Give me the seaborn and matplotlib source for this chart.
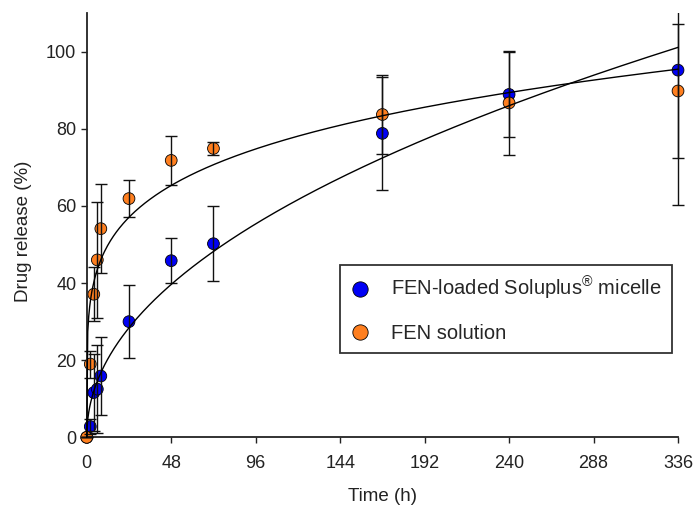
import matplotlib
matplotlib.use("Agg")
import matplotlib.pyplot as plt
import numpy as np
import pandas as pd
import seaborn as sns

# sampling times (h)
time_h = [0, 2, 4, 6, 8, 24, 48, 72, 168, 240, 336]

# FEN-loaded Soluplus micelle
micelle = [0, 2.8, 11.6, 12.5, 15.9, 30.0, 45.8, 50.2, 78.8, 88.9, 95.2]
micelle_err = [0, 2.0, 10.0, 11.5, 10.2, 9.5, 5.8, 9.7, 14.7, 11.0, 35.0]

# FEN solution
solution = [0, 19.0, 37.1, 46.0, 54.1, 61.9, 71.8, 74.9, 83.7, 86.7, 89.8]
solution_err = [0, 3.5, 7.0, 15.0, 11.5, 4.9, 6.3, 1.6, 10.3, 13.5, 17.3]

# fitted power-law (Korsmeyer-Peppas) parameters
micelle_k, micelle_n = 6.16, 0.481
solution_k, solution_n = 30.7, 0.195

labels = [r"FEN-loaded Soluplus$^{\mathregular{®}}$ micelle", "FEN solution"]
colors = ["#0000f5", "#ff7f1f"]

sns.set_style("white")
plt.rcParams["font.family"] = ["Liberation Sans", "DejaVu Sans"]
plt.rcParams["mathtext.fontset"] = "custom"
plt.rcParams["mathtext.rm"] = "Liberation Sans"

df = pd.DataFrame({
    "time": time_h * 2,
    "release": micelle + solution,
    "group": [labels[0]] * len(time_h) + [labels[1]] * len(time_h),
})

fig = plt.figure(figsize=(6.95, 5.08), dpi=100)
ax = fig.add_axes([0.1147, 0.1163, 0.871, 0.858])

sns.scatterplot(data=df, x="time", y="release", hue="group", palette=colors,
                s=72, edgecolor="black", linewidth=0.6, ax=ax, zorder=2,
                clip_on=False)

ax.errorbar(time_h, micelle, yerr=micelle_err, fmt="none", ecolor="#111111",
            elinewidth=1.0, capsize=4.5, capthick=1.0, zorder=3)
ax.errorbar(time_h, solution, yerr=solution_err, fmt="none", ecolor="#111111",
            elinewidth=1.0, capsize=4.5, capthick=1.0, zorder=3)

t = np.linspace(0, 336, 600)
sns.lineplot(x=t, y=micelle_k * t ** micelle_n, color="black", lw=1.0, ax=ax, zorder=3)
sns.lineplot(x=t, y=solution_k * t ** solution_n, color="black", lw=1.0, ax=ax, zorder=3)

ax.set_xlim(-4, 340)
ax.set_ylim(-3, 110)
ax.set_xticks(np.arange(0, 337, 48))
ax.set_yticks(np.arange(0, 101, 20))

for side in ["top", "right"]:
    ax.spines[side].set_visible(False)
ax.spines["left"].set_position(("data", 0))
ax.spines["bottom"].set_position(("data", 0))
ax.spines["left"].set_bounds(0, 110)
ax.spines["bottom"].set_bounds(0, 336)
for side in ["left", "bottom"]:
    ax.spines[side].set_color("#222222")
    ax.spines[side].set_linewidth(1.3)

ax.tick_params(axis="both", direction="out", length=4, width=1.0,
               colors="#222222", labelsize=13, labelcolor="#222222",
               left=True, bottom=True)
ax.xaxis.set_tick_params(pad=9)
ax.set_xlabel("Time (h)", fontsize=13.5, color="#222222", labelpad=11)
ax.set_ylabel("Drug release (%)", fontsize=13.5, color="#222222", labelpad=10)

handles, _ = ax.get_legend_handles_labels()
leg = ax.legend(handles[:2], labels, loc="upper left",
                bbox_to_anchor=(0.430, 0.422), borderaxespad=0,
                fontsize=14.5, frameon=True, fancybox=False,
                edgecolor="black", borderpad=0.5, labelspacing=1.1,
                handlelength=1.0, handletextpad=1.05, markerscale=1.3)
leg.get_frame().set_linewidth(1.3)

fig.savefig("out.png", dpi=100)
